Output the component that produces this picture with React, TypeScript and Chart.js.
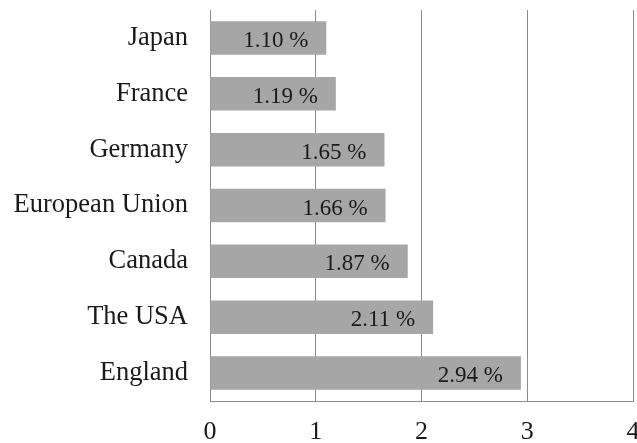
import React, { useEffect, useRef } from "react";
import { Chart, registerables } from "chart.js";

Chart.register(...registerables);

const categories = ["Japan", "France", "Germany", "European Union", "Canada", "The USA", "England"];
const values = [1.1, 1.19, 1.65, 1.66, 1.87, 2.11, 2.94];
const xTicks = [0, 1, 2, 3, 4];

const FONT = "'Liberation Serif', 'Times New Roman', serif";

const labelPlugin = {
  id: "barLabels",
  afterDatasetsDraw(chart: any) {
    const ctx = chart.ctx;
    const meta = chart.getDatasetMeta(0);
    ctx.save();
    ctx.font = `23px ${FONT}`;
    ctx.fillStyle = "#1a1a1a";
    ctx.textAlign = "right";
    ctx.textBaseline = "alphabetic";
    meta.data.forEach((bar: any, i: number) => {
      const v = values[i];
      ctx.fillText(v.toFixed(2) + " %", bar.x - 18, bar.y + 9);
    });
    ctx.restore();
  },
};

export default function App() {
  const ref = useRef<HTMLCanvasElement>(null);
  useEffect(() => {
    const chart = new Chart(ref.current!, {
      type: "bar",
      data: {
        labels: categories,
        datasets: [
          {
            data: values,
            backgroundColor: "#a6a6a6",
            borderWidth: 0,
            barPercentage: 0.6,
            categoryPercentage: 1,
          },
        ],
      },
      options: {
        indexAxis: "y",
        responsive: false,
        animation: false,
        devicePixelRatio: 1,
        layout: { padding: { top: 10, left: 0, right: 4, bottom: 0 } },
        plugins: { legend: { display: false }, tooltip: { enabled: false } },
        scales: {
          x: {
            min: 0,
            max: 4,
            afterBuildTicks: (scale: any) => {
              scale.ticks = xTicks.map((v) => ({ value: v }));
            },
            afterFit: (scale: any) => {
              scale.height = 42;
              scale.paddingLeft = 0;
              scale.paddingRight = 0;
              scale.paddingTop = 0;
              scale.paddingBottom = 0;
            },
            grid: { color: "#8c8c8c", drawTicks: false, lineWidth: 1 },
            border: { color: "#8c8c8c" },
            ticks: {
              padding: 18,
              color: "#1a1a1a",
              maxRotation: 0,
              font: { family: FONT, size: 26, lineHeight: 1 },
            },
          },
          y: {
            afterFit: (scale: any) => {
              scale.width = 210;
              scale.paddingLeft = 0;
              scale.paddingRight = 0;
              scale.paddingTop = 0;
              scale.paddingBottom = 0;
            },
            grid: { display: false, drawTicks: false },
            border: { color: "#8c8c8c" },
            ticks: {
              padding: 22,
              color: "#1a1a1a",
              font: { family: FONT, size: 26.5 },
            },
          },
        },
      },
      plugins: [labelPlugin],
    });
    return () => chart.destroy();
  }, []);
  return (
    <div style={{ position: "absolute", left: 0, top: 0, width: 637, height: 443, overflow: "hidden" }}>
      <canvas ref={ref} width={637} height={443} />
    </div>
  );
}
